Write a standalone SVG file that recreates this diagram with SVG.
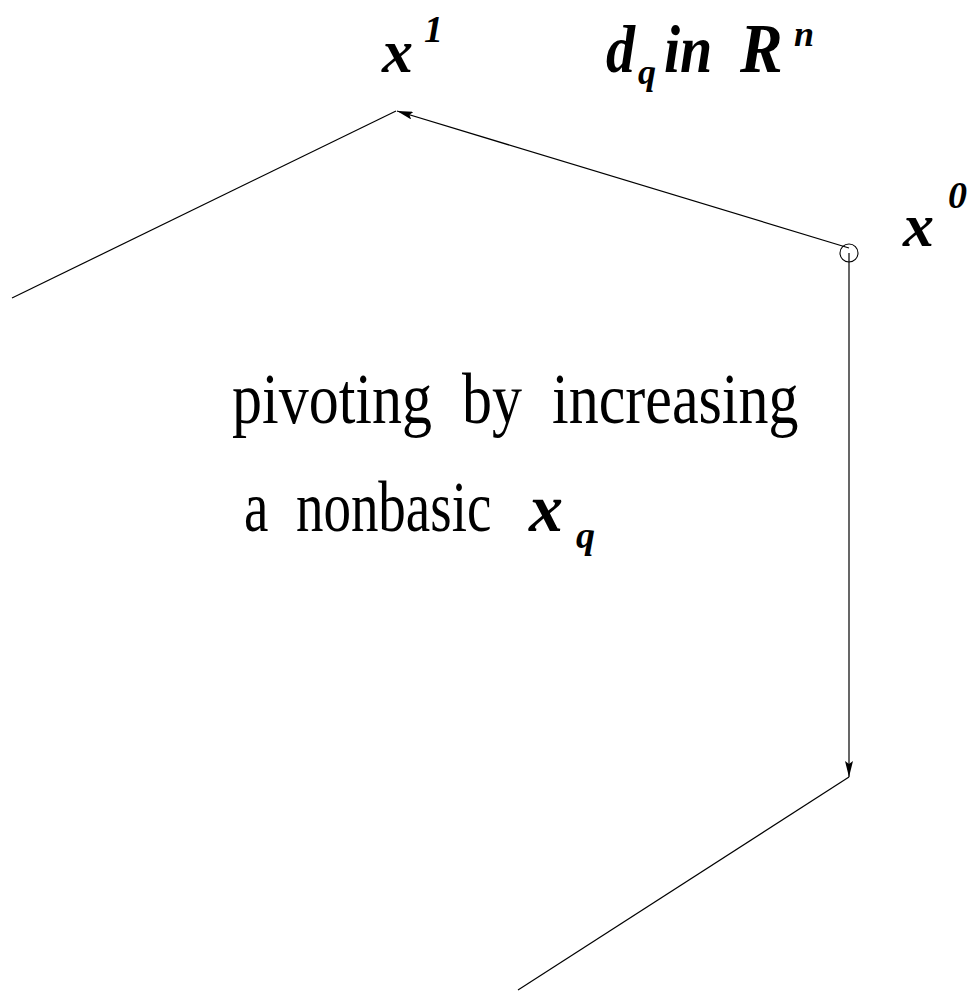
<svg xmlns="http://www.w3.org/2000/svg" width="973" height="992" viewBox="0 0 973 992">
<style>
.ln{stroke:#000;stroke-width:1.2;fill:none}
.bi{font-family:"Liberation Serif",serif;font-weight:bold;font-style:italic;fill:#000}
.rm{font-family:"Liberation Serif",serif;fill:#000}
</style>
<defs>
<marker id="ah" viewBox="0 0 16 8" refX="16" refY="4" markerWidth="16" markerHeight="8" markerUnits="userSpaceOnUse" orient="auto">
<path d="M0,0 L16,4 L0,8 L3,4 Z" fill="#000"/>
</marker>
</defs>
<rect width="973" height="992" fill="#fff"/>
<g id="connectors">
<line class="ln" x1="12" y1="298" x2="396" y2="111"/>
<line class="ln" x1="849" y1="248" x2="397" y2="111" marker-end="url(#ah)"/>
<line class="ln" x1="849" y1="253" x2="849" y2="777" marker-end="url(#ah)"/>
<line class="ln" x1="849" y1="777" x2="518" y2="990"/>
</g>
<g id="x0node">
<circle cx="849" cy="253" r="9" fill="none" stroke="#000" stroke-width="1.1"/>
<text class="bi" x="903" y="246" font-size="62">x</text>
<text class="bi" x="948" y="208" font-size="38">0</text>
</g>
<g id="x1label">
<text class="bi" x="382" y="72" font-size="62">x</text>
<text class="bi" x="424" y="42" font-size="38">1</text>
</g>
<g id="dlabel">
<text class="bi" transform="translate(606,72) scale(1,1.15)" font-size="58">d</text>
<text class="bi" x="638" y="84" font-size="36">q</text>
<text class="bi" transform="translate(664,72) scale(1,1.15)" font-size="58">in</text>
<text class="bi" transform="translate(740,72) scale(1,1.1)" font-size="64">R</text>
<text class="bi" x="794" y="46" font-size="36">n</text>
</g>
<g id="caption">
<text class="rm" transform="translate(232,423) scale(1,1.2)" font-size="60" xml:space="preserve">pivoting  by  increasing</text>
<text class="rm" transform="translate(244,531) scale(1,1.3)" font-size="55" xml:space="preserve">a  nonbasic</text>
<text class="bi" x="529" y="531" font-size="68">x</text>
<text class="bi" x="576" y="548" font-size="38">q</text>
</g>
</svg>
